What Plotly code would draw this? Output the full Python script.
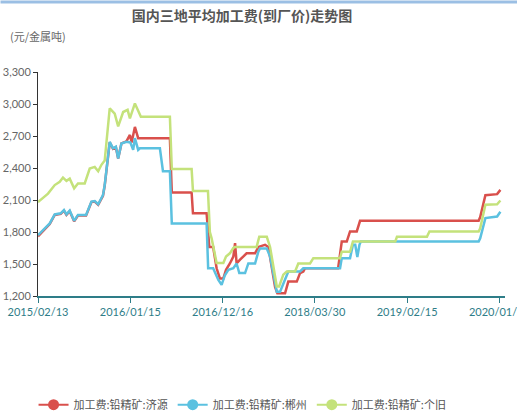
import plotly.graph_objects as go

# Category positions (weekly index) and tick labels
tick_pos = [0, 48, 96, 144, 192, 240]
tick_labels = ["2015/02/13", "2016/01/15", "2016/12/16", "2018/03/30", "2019/02/15", "2020/01/10"]

# 加工费:铅精矿:济源 (red)
jiyuan_x = [0, 3.5, 6.1, 8.7, 11.8, 13.5, 14.8, 16.5, 18.8, 20.8, 25, 27.8, 29.5, 31.3, 33.8, 34.7,
            37.3, 39, 40.5, 41.7, 43.4, 46, 47.8, 48.7, 50.4, 52.1, 68.6, 69.6, 79.9, 80.6, 87.7, 89.1,
            91.1, 92.9, 94.6, 96.4, 97.8, 99.8, 101.6, 102.5, 103.3, 105.1, 106.8, 108.5, 112.9, 114.6,
            118.1, 119.8, 123.3, 124.5, 128.5, 130.2, 134.6, 136.3, 138, 138.9, 156.1, 158, 160.6, 162.3,
            165.8, 167.5, 229.2, 230, 232.7, 238.8, 240.5]
jiyuan_y = [1760, 1830, 1875, 1960, 1970, 2000, 1960, 1995, 1900, 1955, 1955, 2080, 2085, 2055, 2140, 2235,
            2640, 2580, 2595, 2490, 2630, 2650, 2710, 2640, 2785, 2680, 2680, 2170, 2170, 1975, 1975, 1660,
            1660, 1460, 1365, 1365, 1445, 1505, 1570, 1695, 1505, 1540, 1570, 1600, 1600, 1660,
            1680, 1660, 1285, 1225, 1225, 1335, 1335, 1415, 1430, 1460, 1460, 1710, 1710, 1805,
            1805, 1905, 1905, 1940, 2145, 2155, 2195]

# 加工费:铅精矿:郴州 (blue)
chenzhou_x = [0, 3.5, 6.1, 8.7, 11.8, 13.5, 14.8, 16.5, 18.8, 20.8, 25, 27.8, 29.5, 31.3, 33.8, 34.7,
              37.3, 39, 40.5, 41.7, 43.4, 46, 48, 49.5, 50.4, 52.1, 53, 63.4, 65, 68.6, 69.6, 87.7, 88.5,
              91.1, 93.8, 95.5, 97.2, 99, 101.6, 103.3, 104.7, 107.7, 109.4, 112.9, 114.6, 115.5, 119,
              120.7, 124.2, 125.9, 128.5, 130.2, 136.3, 138, 157.1, 158, 162.3, 163.8, 165, 166.1, 167.2,
              167.9, 229.2, 230, 232.7, 238.8, 240.5]
chenzhou_y = [1770, 1835, 1880, 1965, 1975, 2005, 1965, 2000, 1905, 1960, 1960, 2085, 2090, 2060, 2145, 2240,
              2645, 2585, 2600, 2490, 2630, 2645, 2640, 2570, 2680, 2570, 2585, 2585, 2370, 2370, 1880, 1880, 1460,
              1460, 1350, 1305, 1395, 1445, 1460, 1505, 1415, 1415, 1505, 1505, 1615, 1645, 1645,
              1570, 1240, 1240, 1350, 1430, 1430, 1460, 1460, 1555, 1555, 1680, 1680, 1565, 1680,
              1710, 1710, 1740, 1930, 1945, 1990]

# 加工费:铅精矿:个旧 (green)
gejiu_x = [0, 5.2, 8.7, 11.3, 13, 14.8, 16.5, 18.8, 20.8, 24.3, 26.9, 29.5, 31.3, 33, 34.7, 37.3, 39.9,
           41.7, 44.3, 46.6, 47.8, 50.4, 53.5, 68.6, 69.6, 79.9, 80.6, 88.4, 89.4, 90.3, 92.9, 96.4, 97.8,
           99.8, 101.6, 102.4, 113.7, 115.1, 119, 120.7, 124.2, 125.4, 127.6, 129.4, 133.7, 135.4, 141.5,
           143.2, 157.1, 158, 162.3, 163.8, 185.8, 186.7, 202.3, 203.6, 229.2, 230, 232.7, 238.8, 240.5]
gejiu_y = [2080, 2160, 2240, 2270, 2310, 2280, 2300, 2210, 2255, 2255, 2395, 2410, 2370, 2430, 2470, 2960, 2910,
           2790, 2925, 2945, 2865, 3005, 2880, 2880, 2390, 2390, 2185, 2185, 1800, 1740, 1510, 1510, 1570,
           1600, 1650, 1660, 1660, 1755, 1755, 1660, 1290, 1290, 1400, 1430, 1430, 1505, 1505,
           1555, 1555, 1615, 1615, 1710, 1710, 1755, 1755, 1805, 1805, 1835, 2055, 2060, 2095]

names = ["加工费:铅精矿:济源", "加工费:铅精矿:郴州", "加工费:铅精矿:个旧"]
colors = ["#d9504c", "#5bc1e0", "#c4e27b"]
series = [(jiyuan_x, jiyuan_y), (chenzhou_x, chenzhou_y), (gejiu_x, gejiu_y)]

fig = go.Figure()
for (xs, ys), name, col in zip(series, names, colors):
    fig.add_trace(go.Scatter(x=xs, y=ys, mode="lines", name=name,
                             line=dict(color=col, width=2.5), showlegend=False))
for name, col in zip(names, colors):
    fig.add_trace(go.Scatter(x=[None], y=[None], mode="lines+markers", name=name,
                             line=dict(color=col, width=2),
                             marker=dict(color=col, size=11, symbol="circle")))

fig.update_layout(
    width=517, height=414,
    margin=dict(l=38, r=12, t=72, b=118, autoexpand=False),
    paper_bgcolor="white", plot_bgcolor="white",
    font=dict(family="Lato, Noto Sans CJK SC", size=11, color="#666"),
    title=dict(text="<b>国内三地平均加工费(到厂价)走势图</b>", x=0.468, xanchor="center",
               y=1 - 16 / 414, yanchor="middle", yref="container",
               font=dict(family="Noto Sans CJK SC", size=14, color="#555")),
    showlegend=True,
    legend=dict(orientation="h", x=0.438, xanchor="center", y=-0.485, yanchor="middle",
                font=dict(family="Noto Sans CJK SC", size=11, color="#555"),
                itemwidth=30, tracegroupgap=0),
    xaxis=dict(range=[0, 242.9], tickmode="array", tickvals=tick_pos, ticktext=tick_labels,
               showgrid=False, zeroline=False, showline=True, linecolor="#2e7d88", linewidth=1.5,
               ticks="outside", ticklen=5, tickcolor="#2e7d88", automargin=False,
               ticklabeloverflow="allow",
               tickfont=dict(color="#2e7d88", size=11)),
    yaxis=dict(range=[1200, 3300], dtick=300, tick0=1200, tickformat=",",
               showgrid=False, zeroline=False, showline=True, linecolor="#333", linewidth=1,
               ticks="outside", ticklen=4, tickcolor="#333", automargin=False,
               tickfont=dict(color="#666", size=11)),
)

fig.add_annotation(text="(元/金属吨)", xref="paper", yref="paper", x=-0.064, y=1.161,
                   xanchor="left", yanchor="middle", showarrow=False,
                   font=dict(family="Noto Sans CJK SC", size=11, color="#666"))
# thin light-blue band along the top edge of the picture
fig.add_annotation(text=" ", xref="paper", yref="paper", x=-0.0814, y=1.321,
                   xanchor="left", yanchor="top", showarrow=False,
                   width=517, height=2, borderpad=0, bgcolor="#9bbfe4",
                   font=dict(size=1))

fig.write_html("out.html", config={"displayModeBar": False},
               post_script="document.body.style.margin='0';document.body.style.overflow='hidden';")
